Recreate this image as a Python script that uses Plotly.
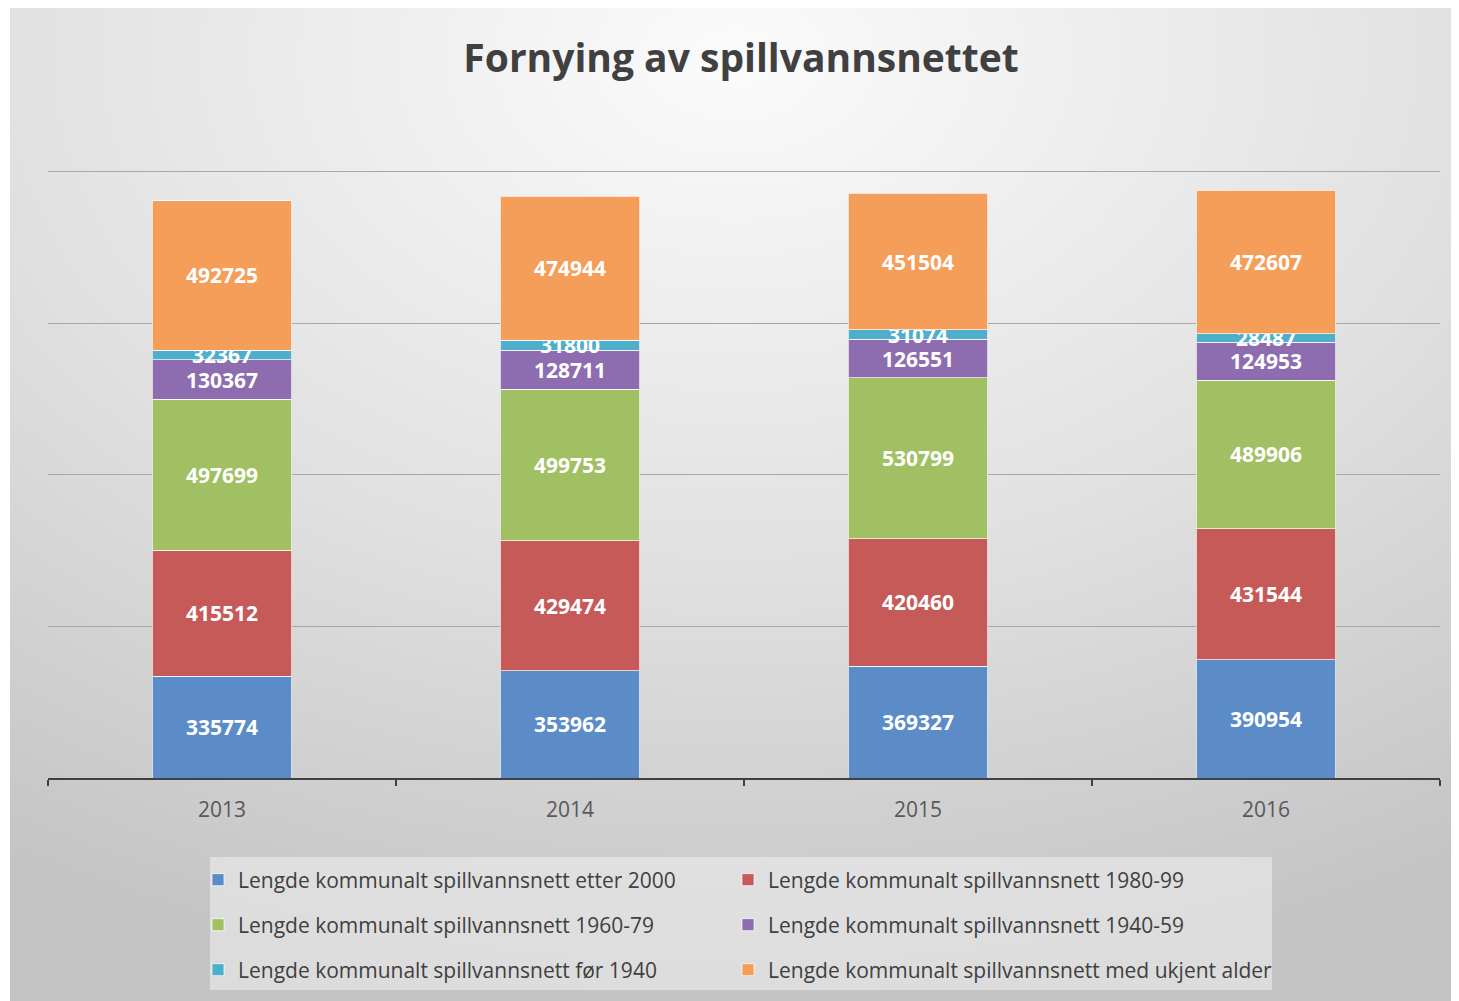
import base64
import plotly.graph_objects as go

years = ["2013", "2014", "2015", "2016"]
series_names = [
    "Lengde kommunalt spillvannsnett etter 2000",
    "Lengde kommunalt spillvannsnett 1980-99",
    "Lengde kommunalt spillvannsnett 1960-79",
    "Lengde kommunalt spillvannsnett 1940-59",
    "Lengde kommunalt spillvannsnett før 1940",
    "Lengde kommunalt spillvannsnett med ukjent alder",
]
etter_2000 = [335774, 353962, 369327, 390954]
ar_1980_99 = [415512, 429474, 420460, 431544]
ar_1960_79 = [497699, 499753, 530799, 489906]
ar_1940_59 = [130367, 128711, 126551, 124953]
for_1940 = [32367, 31800, 31074, 28487]
ukjent_alder = [492725, 474944, 451504, 472607]
series_values = [etter_2000, ar_1980_99, ar_1960_79, ar_1940_59, for_1940, ukjent_alder]
colors = ["#5B8CC8", "#C65A58", "#A0C063", "#8D6DAF", "#4DAFC9", "#F59E5A"]
legend_ids = ["legend", "legend2", "legend3", "legend4", "legend5", "legend6"]

fig = go.Figure()
for name, vals, col, lg in zip(series_names, series_values, colors, legend_ids):
    fig.add_trace(go.Bar(
        x=years, y=vals, name=name, legend=lg,
        marker=dict(color=col, line=dict(color="rgba(255,255,255,0.7)", width=1)),
        text=[str(v) for v in vals],
        textposition="inside", insidetextanchor="middle", textangle=0,
        textfont=dict(family="Open Sans", size=21, color="white", weight="bold"),
        width=0.4,
    ))

# page is offset by the 8px body margin
W, H = 1451, 993
svg = (
    f"<svg xmlns='http://www.w3.org/2000/svg' width='{W}' height='{H}' preserveAspectRatio='none'>"
    "<defs><radialGradient id='g' cx='0.5' cy='0.05' r='0.95' fx='0.5' fy='0.05'>"
    "<stop offset='0' stop-color='#fbfbfb'/>"
    "<stop offset='0.55' stop-color='#e0e0e0'/>"
    "<stop offset='1' stop-color='#c4c4c4'/>"
    "</radialGradient></defs>"
    "<rect width='100%' height='100%' fill='url(#g)'/></svg>"
)
src = "data:image/svg+xml;base64," + base64.b64encode(svg.encode()).decode()

L, R, T, B = 40, 1432, 162, 770
pw, ph = R - L, B - T


def px(x):
    return (x - L) / pw


def py(y):
    return (B - y) / ph


leg_common = dict(orientation="h", xanchor="left", yanchor="middle",
                  bgcolor="rgba(0,0,0,0)",
                  font=dict(family="Open Sans", size=21, color="#404040"))
col_x = [190, 720]
row_y = [872, 917, 962]
legends = {}
for i, lg in enumerate(legend_ids):
    legends[lg] = dict(x=px(col_x[i % 2]), y=py(row_y[i // 2]), **leg_common)

fig.update_layout(
    width=W, height=H,
    margin=dict(l=L, r=W - R, t=T, b=H - B, autoexpand=False),
    barmode="stack",
    paper_bgcolor="white",
    plot_bgcolor="rgba(0,0,0,0)",
    images=[dict(source=src, xref="paper", yref="paper", x=px(2), y=py(0),
                 sizex=px(W) - px(2), sizey=py(0) - py(H), sizing="stretch",
                 xanchor="left", yanchor="top", layer="below")],
    shapes=[dict(type="rect", xref="paper", yref="paper",
                 x0=px(202), x1=px(1264), y0=py(849), y1=py(982),
                 fillcolor="rgba(240,240,240,0.55)", line=dict(width=0), layer="below")],
    title=dict(text="Fornying av spillvannsnettet", x=733 / W, xanchor="center",
               y=1 - 50 / H, yanchor="middle", yref="container",
               font=dict(family="Open Sans", size=39, color="#404040", weight="bold")),
    uniformtext=dict(minsize=21, mode="show"),
    showlegend=True,
    xaxis=dict(showgrid=False, showline=True, linecolor="#404040", linewidth=2,
               ticks="outside", tickson="boundaries", ticklen=6, tickcolor="#404040",
               tickwidth=2, range=[-0.5, 3.5], ticklabelstandoff=12,
               tickfont=dict(family="Open Sans", size=21, color="#595959")),
    yaxis=dict(range=[0, 2006000], dtick=500000, showgrid=True, gridcolor="#a8a8a8",
               gridwidth=1, showticklabels=False, zeroline=False, showline=False),
    **legends,
)

fig.write_html("out.html")
